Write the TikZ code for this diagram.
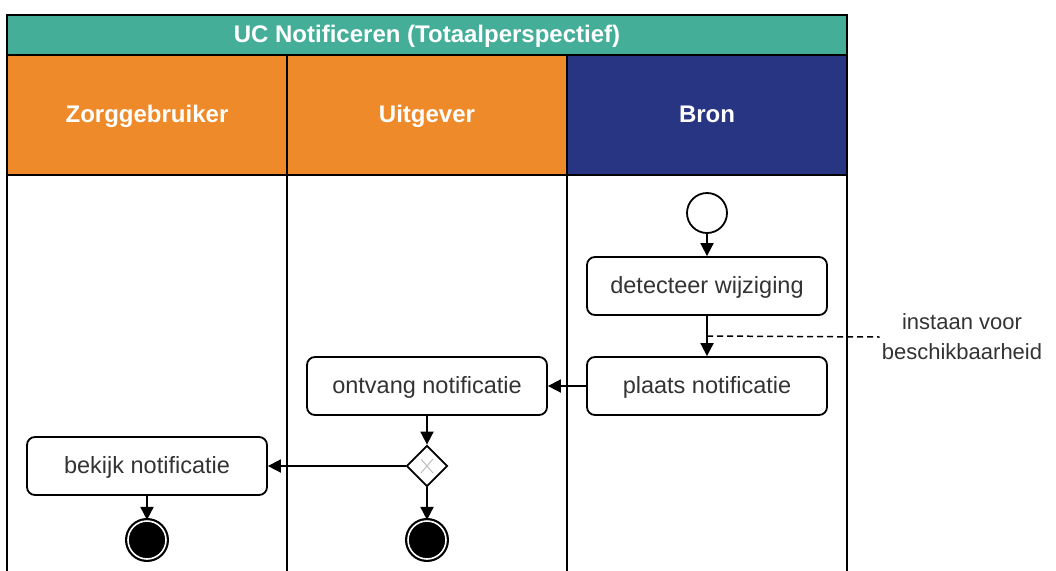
\documentclass[tikz,border=0pt]{standalone}
\usepackage{fontspec}
\setmainfont{Liberation Sans}
\usetikzlibrary{arrows.meta,shapes.geometric}
\definecolor{ucteal}{HTML}{44AE98}
\definecolor{ucorange}{HTML}{EE8A2A}
\definecolor{ucnavy}{HTML}{283583}
\definecolor{uctext}{HTML}{333333}

\begin{document}
\begin{tikzpicture}[x=1pt,y=-1pt,
  act/.style={draw, line width=1.8pt, rounded corners=8pt, minimum width=240pt, minimum height=58pt, text height=17pt, text depth=2pt, font=\fontsize{23.5}{28}\selectfont, text=uctext},
  flow/.style={line width=1.8pt, -{Triangle[length=13pt,width=13pt]}},
  headtext/.style={text=white, text height=17pt, text depth=2pt, font=\bfseries\fontsize{24}{28}\selectfont},
  endstate/.style={circle, draw, line width=2.2pt, double=white, double distance=1.6pt, fill=black, minimum size=38pt, inner sep=0pt}]
\useasboundingbox (0,0) rectangle (1056,570);

% Draw pool title
\draw [fill=ucteal, line width=1.8pt] (7,15) rectangle (847,55);
\node [headtext] (title) at (427,35) {UC Notificeren (Totaalperspectief)};

% Draw lane headers
\draw [fill=ucorange, line width=1.8pt] (7,55) rectangle (287,175);
\draw [fill=ucorange, line width=1.8pt] (287,55) rectangle (567,175);
\draw [fill=ucnavy, line width=1.8pt] (567,55) rectangle (847,175);
\node [headtext] (zorg) at (147,115) {Zorggebruiker};
\node [headtext] (uitg) at (427,115) {Uitgever};
\node [headtext] (bron) at (707,115) {Bron};

% Draw lanes
\draw [line width=1.8pt] (7,175) -- (847,175);
\foreach \x in {7,287,567,847}
  \draw [line width=1.8pt] (\x,175) -- (\x,572);

% Bron
\node [circle, draw, line width=1.8pt, fill=white, minimum size=40pt] (start) at (707,213) {};
\node [act] (detect) at (707,286) {detecteer wijziging};
\node [act] (plaats) at (707,386) {plaats notificatie};

% Uitgever
\node [act] (ontvang) at (427,386) {ontvang notificatie};
\node [diamond, draw, line width=1.8pt, fill=white, minimum size=41pt, inner sep=0pt] (gate) at (427,466) {};
\draw [gray!50, line width=1pt] (gate.center) ++(-6,-7) -- ++(12,14);
\draw [gray!50, line width=1pt] (gate.center) ++(6,-7) -- ++(-12,14);
\node [endstate] (endU) at (427,540) {};

% Zorggebruiker
\node [act] (bekijk) at (147,466) {bekijk notificatie};
\node [endstate] (endZ) at (147,540) {};

% Flows
\draw [flow] (start) -- (detect);
\draw [flow] (detect) -- (plaats);
\draw [flow] (plaats) -- (ontvang);
\draw [flow] (ontvang) -- (gate);
\draw [flow] (gate) -- (bekijk);
\draw [flow] (gate) -- (endU);
\draw [flow] (bekijk) -- (endZ);

% Note
\coordinate (noteat) at (707,336);
\node [align=center, text=uctext, font=\fontsize{22}{30}\selectfont, inner sep=2pt] (note) at (962,337) {instaan voor\\beschikbaarheid};
\draw [line width=1.5pt, dash pattern=on 6pt off 4pt] (noteat) -- (note.west);
\end{tikzpicture}
\end{document}
